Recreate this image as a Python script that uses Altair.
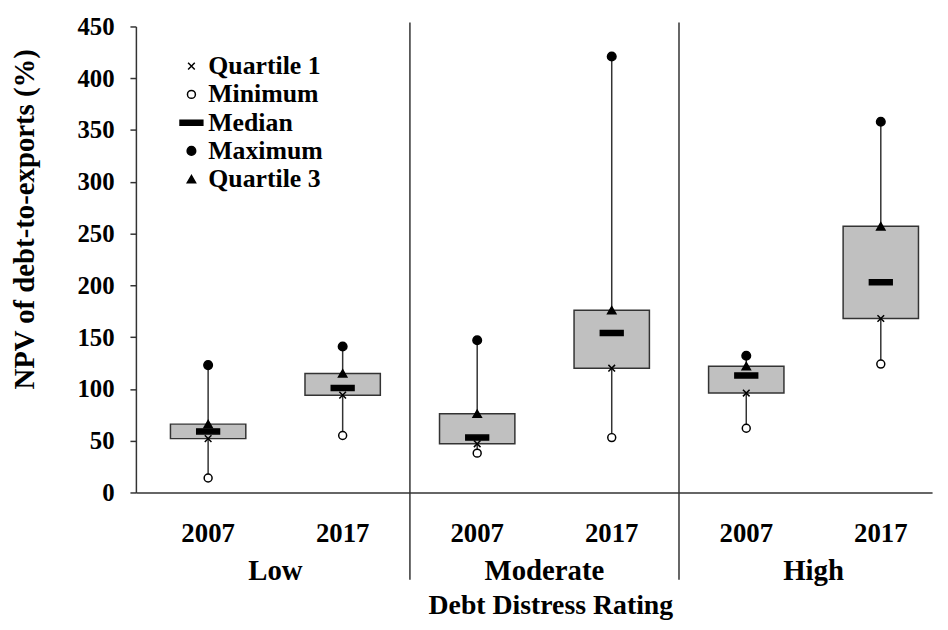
import altair as alt
import pandas as pd

# ---- data ----
groups = ["Low", "Low", "Moderate", "Moderate", "High", "High"]
years = ["2007", "2017", "2007", "2017", "2007", "2017"]
minimum = [14, 55, 38, 53, 62, 124]
quartile1 = [52, 94, 47, 120, 96, 168]
median = [59, 101, 53, 154, 113, 203]
quartile3 = [66, 115, 76, 176, 122, 257]
maximum = [123, 141, 147, 421, 132, 358]
stat_names = ["Quartile 1", "Minimum", "Median", "Maximum", "Quartile 3"]
y_ticks = [0, 50, 100, 150, 200, 250, 300, 350, 400, 450]

pos = list(range(1, len(groups) + 1))
box = pd.DataFrame({
    "pos": pos, "group": groups, "year": years,
    "mn": minimum, "q1": quartile1, "med": median, "q3": quartile3, "mx": maximum,
})
colmap = {"q1": "Quartile 1", "mn": "Minimum", "med": "Median", "mx": "Maximum", "q3": "Quartile 3"}
pts = box.melt(id_vars=["pos"], value_vars=list(colmap.keys()), var_name="k", value_name="value")
pts["stat"] = pts["k"].map(colmap)

grp = box.groupby("group", sort=False)["pos"].agg(["min", "max"]).reset_index()
grp["mid"] = (grp["min"] + grp["max"]) / 2
sep = pd.DataFrame({"x": [(grp["max"][i] + grp["min"][i + 1]) / 2 for i in range(len(grp) - 1)]})

# ---- styling ----
FONT = "'Liberation Serif', 'Times New Roman', 'DejaVu Serif', serif"
W, H = 803, 470
STEP = 137.4
LINE = "#333333"

xscale = alt.Scale(domain=[0.5, 0.5 + W / STEP], nice=False, zero=False)
yscale = alt.Scale(domain=[0, 450], nice=False, zero=True)

xaxis = alt.Axis(labels=False, ticks=False, grid=False, domainColor=LINE, domainWidth=1.5,
                 title="Debt Distress Rating", titleFont=FONT, titleFontSize=28,
                 titleFontWeight="bold", titleColor="black", titleX=418, titleY=122,
                 titleAlign="center", titleBaseline="alphabetic")
yaxis = alt.Axis(values=y_ticks, grid=False, tickSize=6, tickColor=LINE, tickWidth=1.5,
                 domainColor=LINE, domainWidth=1.5, labelFont=FONT, labelFontSize=25,
                 labelFontWeight="bold", labelColor="black", labelPadding=16,
                 title="NPV of debt-to-exports (%)", titleFont=FONT, titleFontSize=29,
                 titleFontWeight="bold", titleColor="black", titleX=-112, titleY=194,
                 titleAngle=270, titleAlign="center", titleBaseline="middle")

X = alt.X("pos:Q", scale=xscale, axis=xaxis)

whisker = alt.Chart(box).mark_rule(color=LINE, strokeWidth=1.5).encode(
    x=X, y=alt.Y("mn:Q", scale=yscale, axis=yaxis), y2="mx:Q")

boxes = alt.Chart(box).mark_bar(size=76, fill="#C0C0C0", stroke=LINE, strokeWidth=1.5).encode(
    x=X, y=alt.Y("q1:Q", scale=yscale, axis=yaxis), y2="q3:Q")

xpath = "M-1,-1L1,1M-1,1L1,-1"
medpath = "M-1,-0.22H1V0.22H-1Z"
leg = alt.Legend(orient="none", legendX=43, legendY=27, title=None, padding=0,
                 rowPadding=2.5, labelOffset=4, labelFont=FONT, labelFontSize=26,
                 labelFontWeight="bold", labelColor="black", symbolStrokeWidth=1.5)

points = alt.Chart(pts).mark_point(filled=True, strokeWidth=1.5, opacity=1).encode(
    x=X,
    y=alt.Y("value:Q", scale=yscale, axis=yaxis),
    shape=alt.Shape("stat:N", scale=alt.Scale(domain=stat_names,
                    range=[xpath, "circle", medpath, "circle", "triangle-up"]), legend=leg),
    fill=alt.Fill("stat:N", scale=alt.Scale(domain=stat_names,
                  range=["black", "white", "black", "black", "black"]), legend=leg),
    stroke=alt.Stroke("stat:N", scale=alt.Scale(domain=stat_names,
                      range=["black", "black", "black", "black", "black"]), legend=leg),
    size=alt.Size("stat:N", scale=alt.Scale(type="ordinal", domain=stat_names,
                  range=[45, 64, 529, 75, 70]), legend=leg),
)

year_text = alt.Chart(box).mark_text(font=FONT, fontSize=27, fontWeight="bold", color="black",
                                     baseline="alphabetic", align="center").encode(
    x=X, y=alt.value(520), text="year:N")

group_text = alt.Chart(grp).mark_text(font=FONT, fontSize=29, fontWeight="bold", color="black",
                                      baseline="alphabetic", align="center").encode(
    x=alt.X("mid:Q", scale=xscale, axis=xaxis), y=alt.value(558), text="group:N")

separators = alt.Chart(sep).mark_rule(color=LINE, strokeWidth=1.5).encode(
    x=alt.X("x:Q", scale=xscale, axis=xaxis), y=alt.value(-4), y2=alt.value(558))

chart = alt.layer(whisker, boxes, points, year_text, group_text, separators).properties(
    width=W, height=H,
    autosize=alt.AutoSizeParams(type="none"),
    padding={"left": 129, "top": 16, "right": 8, "bottom": 128},
    background="white",
).configure_view(strokeWidth=0)

chart.save("out.html", embed_options={"renderer": "svg", "actions": False})
